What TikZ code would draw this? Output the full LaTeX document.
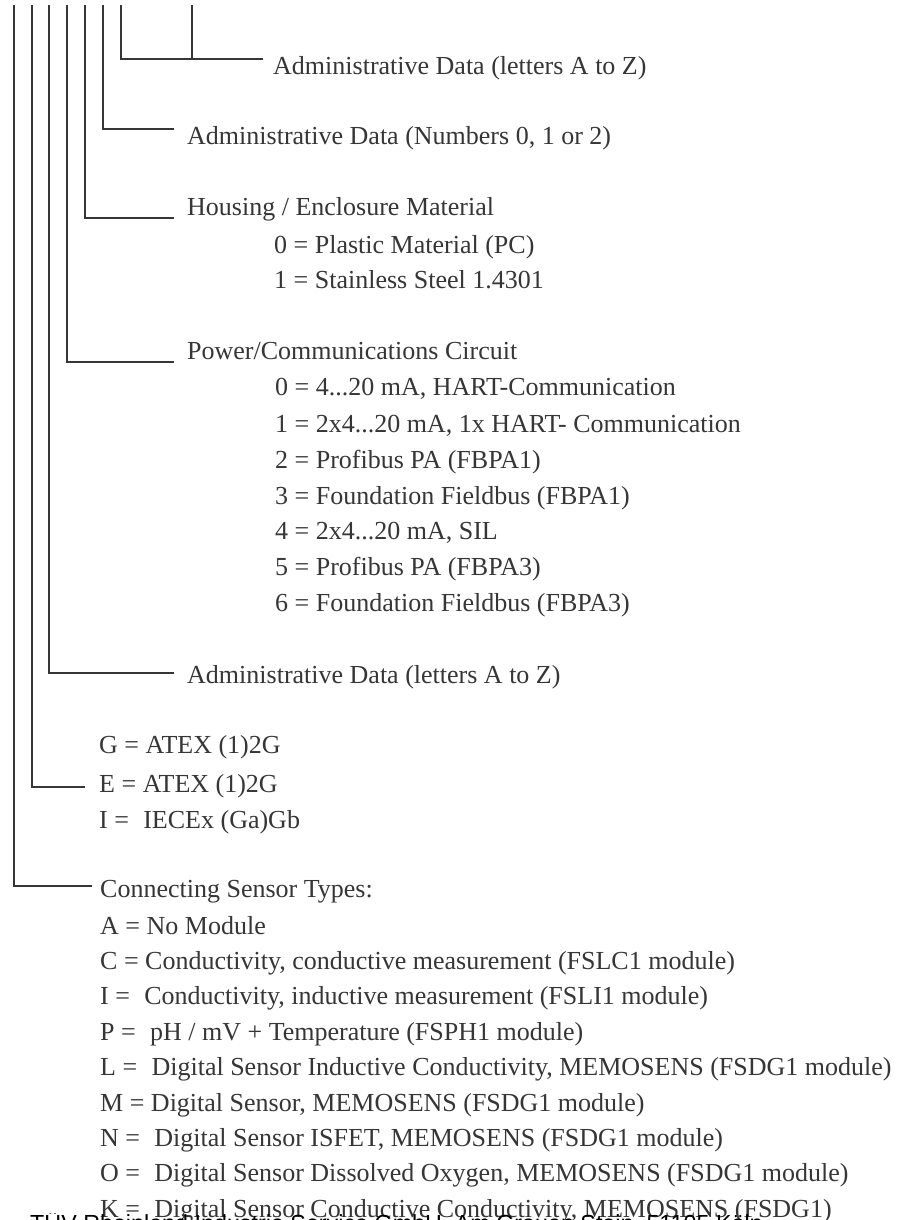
\documentclass[tikz,border=0pt]{standalone}
\usepackage{fontspec}
\setmainfont{Liberation Serif}
\newfontfamily\footfont{Liberation Sans}
\definecolor{ink}{HTML}{363636}
\tikzset{
  wire/.style={line width=1.7pt, draw=ink},
  lbl/.style={anchor=base west, inner sep=0pt, text=ink, font=\fontsize{26}{30}\selectfont},
  foot/.style={anchor=base west, inner sep=0pt, text=black, font=\footfont\fontsize{23.3}{27}\selectfont},
}
\newcommand{\dsp}{\hspace{0.3em}}
\begin{document}
\begin{tikzpicture}[x=1pt,y=-1pt]
\useasboundingbox[fill=white] (0,0) rectangle (901,1220);
% tops of the vertical lines
\coordinate (t1) at (14,5);
\coordinate (t2) at (32,5);
\coordinate (t3) at (49,5);
\coordinate (t4) at (67,5);
\coordinate (t5) at (85,5);
\coordinate (t6) at (103,5);
\coordinate (t7) at (121,5);
\coordinate (t8) at (192,5);
% ends of the horizontal leaders
\coordinate (e7) at (263,59);
\coordinate (j8) at (192,59);
\coordinate (e6) at (174,129);
\coordinate (e5) at (174,218);
\coordinate (e4) at (174,362);
\coordinate (e3) at (174,673);
\coordinate (e2) at (85,787);
\coordinate (e1) at (92,886);
\draw[wire] (t7) |- (e7);
\draw[wire] (t8) -- (j8);
\draw[wire] (t6) |- (e6);
\draw[wire] (t5) |- (e5);
\draw[wire] (t4) |- (e4);
\draw[wire] (t3) |- (e3);
\draw[wire] (t2) |- (e2);
\draw[wire] (t1) |- (e1);
% labels
\node[lbl] (adminz) at (273,75) {Administrative Data (letters A to Z)};
\node[lbl] (adminn) at (187,145) {Administrative Data (Numbers 0, 1 or 2)};
\node[lbl] (housing) at (187,215) {Housing / Enclosure Material};
\node[lbl] (h0) at (274,253) {0 = Plastic Material (PC)};
\node[lbl] (h1) at (274,288) {1 = Stainless Steel 1.4301};
\node[lbl] (power) at (187,359) {Power/Communications Circuit};
\node[lbl] (p0) at (275,395) {0 = 4...20 mA, HART-Communication};
\node[lbl] (p1) at (275,432) {1 = 2x4...20 mA, 1x HART- Communication};
\node[lbl] (p2) at (275,468) {2 = Profibus PA (FBPA1)};
\node[lbl] (p3) at (275,504) {3 = Foundation Fieldbus (FBPA1)};
\node[lbl] (p4) at (275,539) {4 = 2x4...20 mA, SIL};
\node[lbl] (p5) at (275,575) {5 = Profibus PA (FBPA3)};
\node[lbl] (p6) at (275,611) {6 = Foundation Fieldbus (FBPA3)};
\node[lbl] (adminz2) at (187,683) {Administrative Data (letters A to Z)};
\node[lbl] (xg) at (99,753) {G = ATEX (1)2G};
\node[lbl] (xe) at (99,792) {E = ATEX (1)2G};
\node[lbl] (xi) at (99,828) {I =\dsp{} IECEx (Ga)Gb};
\node[lbl] (conn) at (100,897) {Connecting Sensor Types:};
\node[lbl] (sa) at (100,934) {A = No Module};
\node[lbl] (sc) at (100,969.4) {C = Conductivity, conductive measurement (FSLC1 module)};
\node[lbl] (si) at (100,1004.8) {I =\dsp{} Conductivity, inductive measurement (FSLI1 module)};
\node[lbl] (sp) at (100,1040.2) {P =\dsp{} pH / mV + Temperature (FSPH1 module)};
\node[lbl] (sl) at (100,1075.6) {L =\dsp{} Digital Sensor Inductive Conductivity, MEMOSENS (FSDG1 module)};
\node[lbl] (sm) at (100,1111) {M = Digital Sensor, MEMOSENS (FSDG1 module)};
\node[lbl] (sn) at (100,1146.4) {N =\dsp{} Digital Sensor ISFET, MEMOSENS (FSDG1 module)};
\node[lbl] (so) at (100,1181.8) {O =\dsp{} Digital Sensor Dissolved Oxygen, MEMOSENS (FSDG1 module)};
\node[lbl] (sk) at (100,1217) {K =\dsp{} Digital Sensor Conductive Conductivity, MEMOSENS (FSDG1)};
% cut-off footer
\begin{scope}
\clip (0,1213) rectangle (901,1220);
\node[foot] (footer) at (30,1231) {TÜV Rheinland Industrie Service GmbH, Am Grauen Stein, 51105 Köln};
\end{scope}
\end{tikzpicture}
\end{document}
